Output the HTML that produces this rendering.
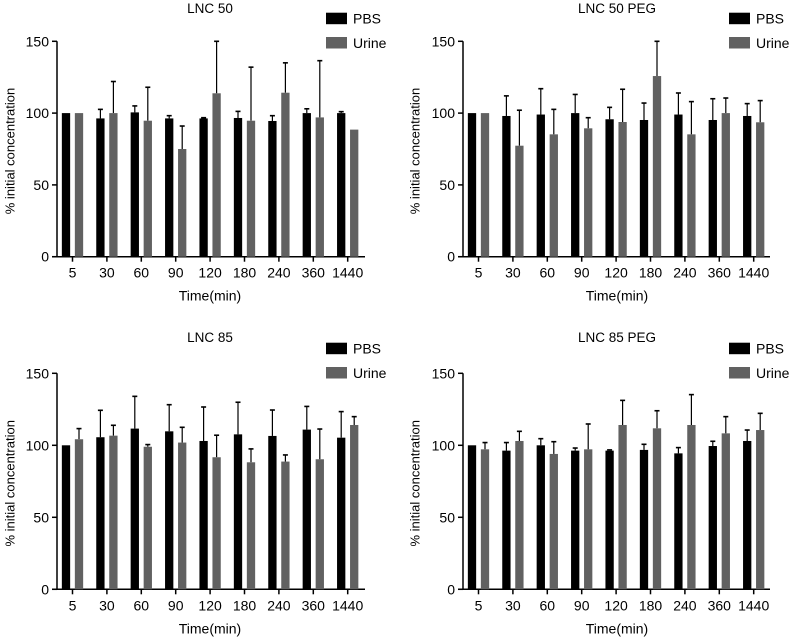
<!DOCTYPE html>
<html><head><meta charset="utf-8"><style>
html,body{margin:0;padding:0;background:#fff}
svg{display:block;font-family:"Liberation Sans",Arial,sans-serif}
</style></head><body>
<svg id="fig" width="789" height="642" viewBox="0 0 789 642"></svg>
<script>
const categories = ["5","30","60","90","120","180","240","360","1440"];
const yTicks = [0,50,100,150];
const seriesNames = ["PBS","Urine"];
const titles = ["LNC 50","LNC 50 PEG","LNC 85","LNC 85 PEG"];
const pbs50 = [100,96.3,100.5,96.3,96.3,96.6,94.5,100,100];
const pbs50Err = [0,6.3,4.5,1.9,0.5,4.6,3.7,3,1];
const urine50 = [100,100,94.7,75,113.8,94.7,114.2,97,88.5];
const urine50Err = [0,22,23.3,16,36.2,37.3,20.8,39.5,0];
const pbs50peg = [100,98,99,100,95.7,95.2,99,95.2,98];
const pbs50pegErr = [0,14,18,13,8.3,11.8,15,14.8,8.6];
const urine50peg = [100,77.3,85.2,89.4,93.8,125.8,85.2,100,93.6];
const urine50pegErr = [0,24.7,17.4,7.4,22.8,24.2,22.8,10.5,15.1];
const pbs85 = [100,105.6,111.6,109.7,103,107.6,106.5,110.9,105.3];
const pbs85Err = [0,18.7,22.4,18.5,23.6,22.3,18,16.1,18.1];
const urine85 = [104.2,106.7,99,101.9,91.7,88.2,88.7,90.3,114.1];
const urine85Err = [7.4,7.2,1.5,10.6,15.3,9.3,4.6,21,5.8];
const pbs85peg = [100,96.3,100,96.3,96.3,96.8,94.4,99.5,103];
const pbs85pegErr = [0,5.6,4.6,1.8,0.5,3.9,4,3.3,7.6];
const urine85peg = [97.2,103,94,97.2,114.1,111.8,114.1,108.3,110.6];
const urine85pegErr = [4.7,6.7,8.5,17.6,17.1,12.2,21.1,11.6,11.6];

const panels = [
 {ax:57, gx:72.5, end:365, y0:256.7, y1:41.3, ty:8, tx:210, ylx:10, leg:326, legy:12.7, p:pbs50, pe:pbs50Err, u:urine50, ue:urine50Err},
 {ax:463, gx:478.5, end:770, y0:256.7, y1:41.3, ty:8, tx:617, ylx:415, leg:729, legy:12.7, p:pbs50peg, pe:pbs50pegErr, u:urine50peg, ue:urine50pegErr},
 {ax:57, gx:72.5, end:365, y0:589.3, y1:373.3, ty:337, tx:210, ylx:10, leg:326, legy:342.7, p:pbs85, pe:pbs85Err, u:urine85, ue:urine85Err},
 {ax:463, gx:478.5, end:770, y0:589.3, y1:373.3, ty:337, tx:617, ylx:415, leg:729, legy:342.7, p:pbs85peg, pe:pbs85pegErr, u:urine85peg, ue:urine85pegErr}
];
const NS="http://www.w3.org/2000/svg";
const svg=document.getElementById('fig');
function mk(tag,attrs,parent,text){const e=document.createElementNS(NS,tag);for(const k in attrs)e.setAttribute(k,attrs[k]);if(text!==undefined)e.textContent=text;parent.appendChild(e);return e;}
const spacing=34.4, bw=8.3, off=6.5;
const colors=["#000000","#616161"];
panels.forEach((P,pi)=>{
  const g=mk('g',{},svg);
  
  
  const ys=v=>P.y0-(v/150)*(P.y0-P.y1);
  const xs=i=>P.gx+i*spacing;
  const t=mk('text',{x:P.tx,y:P.ty+5,'text-anchor':'middle','font-size':13.5,fill:'#000'},g,titles[pi]);
  
  
  // axes
  const ya=mk('line',{x1:P.ax,y1:P.y1,x2:P.ax,y2:P.y0,stroke:'#000','stroke-width':1.5},g);
  
  
  const xa=mk('line',{x1:P.ax-5,y1:P.y0,x2:P.end,y2:P.y0,stroke:'#000','stroke-width':1.5},g);
  
  
  yTicks.forEach(v=>{
    mk('line',{x1:P.ax-5,y1:ys(v),x2:P.ax,y2:ys(v),stroke:'#000','stroke-width':1.5},g);
    const tl=mk('text',{x:P.ax-8,y:ys(v)+5,'text-anchor':'end','font-size':14},g,String(v));
    
    
  });
  categories.forEach((c,i)=>{
    mk('line',{x1:xs(i),y1:P.y0,x2:xs(i),y2:P.y0+5,stroke:'#000','stroke-width':1.5},g);
    const xl=mk('text',{x:xs(i),y:P.y0+21,'text-anchor':'middle','font-size':14},g,c);
    
    
    [[P.p,P.pe],[P.u,P.ue]].forEach((s,si)=>{
      const v=s[0][i], e=s[1][i], cx=xs(i)+(si?off:-off);
      if(e>0){
        mk('line',{x1:cx,y1:ys(v),x2:cx,y2:ys(v+e),stroke:'#000','stroke-width':1.2},g);
        mk('line',{x1:cx-2.5,y1:ys(v+e),x2:cx+2.5,y2:ys(v+e),stroke:'#000','stroke-width':1.6},g);
      }
      const r=mk('rect',{x:cx-bw/2,y:ys(v),width:bw,height:P.y0-ys(v),fill:colors[si]},g);
      
      
    });
  });
  const xt=mk('text',{x:P.tx,y:P.y0+44,'text-anchor':'middle','font-size':14},g,'Time(min)');
  
  
  const cy=(P.y0+P.y1)/2+2;
  const yt=mk('text',{x:P.ylx,y:cy,'text-anchor':'middle','font-size':13,transform:`rotate(-90 ${P.ylx} ${cy})`,'dominant-baseline':'central'},g,'% initial concentration');
  
  
  seriesNames.forEach((n,si)=>{
    const ly=P.legy+si*24.3;
    const lg=mk('g',{},g);
    
    
    mk('rect',{x:P.leg,y:ly,width:21,height:11.5,fill:colors[si]},lg);
    mk('text',{x:P.leg+27,y:ly+11,'font-size':14},lg,n);
  });
});
</script>
</body></html>
